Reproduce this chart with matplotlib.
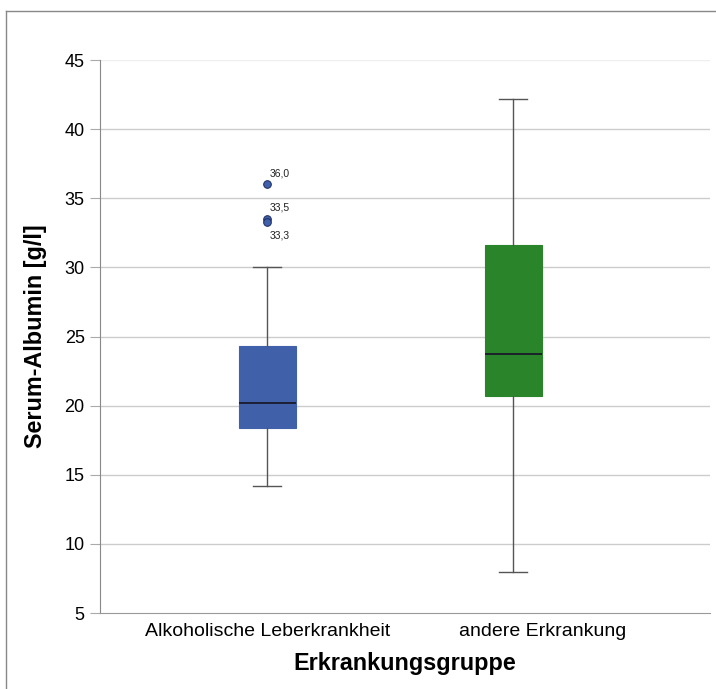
import matplotlib.pyplot as plt
import matplotlib.transforms as mtransforms
from matplotlib.lines import Line2D

plt.rcParams["font.family"] = ["Liberation Sans", "DejaVu Sans"]

groups = ["Alkoholische Leberkrankheit", "andere Erkrankung"]
whisker_low = [14.2, 8.0]
q1 = [18.4, 20.7]
median = [20.2, 23.7]
q3 = [24.3, 31.6]
whisker_high = [30.0, 42.2]
box_colors = ["#4060aa", "#2a852a"]

outlier_values = [36.0, 33.5, 33.3]
outlier_labels = ["36,0", "33,5", "33,3"]

y_ticks = [5, 10, 15, 20, 25, 30, 35, 40, 45]


def main() -> None:
    fig = plt.figure(figsize=(7.16, 6.89), dpi=100)
    ax = fig.add_axes([0.1397, 0.1103, 0.852, 0.8026])

    stats = []
    for i, name in enumerate(groups):
        stats.append({
            "label": name,
            "whislo": whisker_low[i],
            "q1": q1[i],
            "med": median[i],
            "q3": q3[i],
            "whishi": whisker_high[i],
            "fliers": outlier_values if i == 0 else [],
        })

    bp = ax.bxp(
        stats,
        positions=[1, 2],
        widths=0.23,
        patch_artist=True,
        showfliers=True,
        boxprops=dict(linewidth=0.8),
        medianprops=dict(color="#1a1a2a", linewidth=1.3),
        whiskerprops=dict(color="#555555", linewidth=1.0),
        capprops=dict(color="#555555", linewidth=1.0),
        capwidths=0.115,
        flierprops=dict(marker="o", markersize=5.5, markerfacecolor="#4060aa",
                        markeredgecolor="#1a2a60", markeredgewidth=0.7),
    )
    for patch, color in zip(bp["boxes"], box_colors):
        patch.set_facecolor(color)
        patch.set_edgecolor(color)

    offsets = [(2, 6), (2, 6), (2, -12)]
    for val, lab, off in zip(outlier_values, outlier_labels, offsets):
        ax.annotate(lab, (1, val), xytext=off, textcoords="offset points",
                    fontsize=7.5, color="#222222")

    ax.set_xlim(0.32, 2.8)
    ax.set_ylim(5, 45)
    ax.set_yticks(y_ticks)
    ax.set_yticklabels([str(t) for t in y_ticks], fontsize=13)
    ax.set_xticks([1, 2])
    ax.set_xticklabels(groups, fontsize=14)
    ax.tick_params(axis="x", length=0, pad=7)
    ax.tick_params(axis="y", length=7, color="#aaaaaa", pad=4)

    # second category label sits a bit right of its box in the original
    shift = mtransforms.ScaledTranslation(0.29, 0, fig.dpi_scale_trans)
    lbl = ax.get_xticklabels()[1]
    lbl.set_transform(lbl.get_transform() + shift)

    for t in y_ticks[1:-1]:
        ax.axhline(t, color="#cccccc", linewidth=1.0, zorder=0)
    ax.axhline(45, color="#eeeeee", linewidth=1.0, zorder=0)

    for side in ["top", "right"]:
        ax.spines[side].set_visible(False)
    ax.spines["left"].set_color("#888888")
    ax.spines["bottom"].set_color("#999999")

    ax.set_xlabel("Erkrankungsgruppe", fontsize=16.8, fontweight="bold", labelpad=9)
    ax.set_ylabel("Serum-Albumin [g/l]", fontsize=16.8, fontweight="bold", labelpad=13)

    fig.add_artist(Line2D([6 / 716, 6 / 716], [0, 1 - 11 / 689], transform=fig.transFigure,
                          color="#888888", linewidth=1.0))
    fig.add_artist(Line2D([6 / 716, 1], [1 - 11 / 689, 1 - 11 / 689], transform=fig.transFigure,
                          color="#888888", linewidth=1.0))

    fig.savefig("out.png", dpi=100)
    plt.close(fig)


if __name__ == "__main__":
    main()
